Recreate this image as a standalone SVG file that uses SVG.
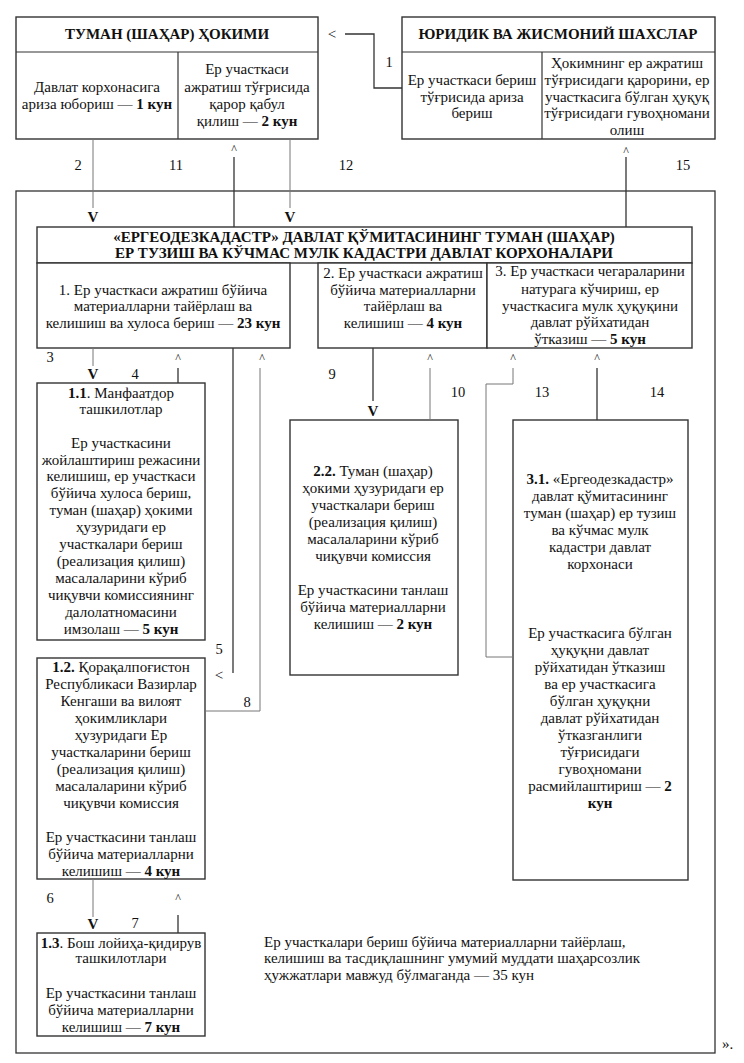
<svg xmlns="http://www.w3.org/2000/svg" width="744" height="1063" viewBox="0 0 744 1063">
<style>
.t{font-size:15px;fill:#111}
.c{text-anchor:middle}
.b{font-weight:bold}
.box{fill:#fff;stroke:#333;stroke-width:1.4}
.div{stroke:#333;stroke-width:1.2;fill:none}
.ln{stroke:#333;stroke-width:1.3;fill:none}
.lg{stroke:#777;stroke-width:1;fill:none}
.num{font-size:14.5px;fill:#111;text-anchor:middle}
.car{font-size:12px;fill:#111;text-anchor:middle}
.v{font-weight:bold;text-anchor:middle;font-size:15px;fill:#111}
</style>
<rect width="744" height="1063" fill="#fff"/>
<g id="frame"><rect x="16" y="191" width="699" height="862" fill="none" stroke="#333" stroke-width="1.3"/></g>

<g id="node-hokim">
<rect class="box" x="16" y="17" width="302" height="122"/>
<line class="div" x1="16" y1="52" x2="318" y2="52"/>
<line class="div" x1="178" y1="52" x2="178" y2="139"/>
<text style="font-family:'Liberation Serif',serif" class="t c b" x="167" y="39">ТУМАН (ШАҲАР) ҲОКИМИ</text>
<text style="font-family:'Liberation Serif',serif" class="t c" x="97" y="92">Давлат корхонасига</text>
<text style="font-family:'Liberation Serif',serif" class="t c" x="97" y="109">ариза юбориш — <tspan class="b">1 кун</tspan></text>
<text style="font-family:'Liberation Serif',serif" class="t c" x="247" y="74">Ер участкаси</text>
<text style="font-family:'Liberation Serif',serif" class="t c" x="247" y="92">ажратиш тўғрисида</text>
<text style="font-family:'Liberation Serif',serif" class="t c" x="247" y="109">қарор қабул</text>
<text style="font-family:'Liberation Serif',serif" class="t c" x="247" y="126">қилиш — <tspan class="b">2 кун</tspan></text>
</g>

<g id="node-shaxslar">
<rect class="box" x="402" y="17" width="313" height="122"/>
<line class="div" x1="402" y1="52" x2="715" y2="52"/>
<line class="div" x1="542" y1="52" x2="542" y2="139"/>
<text style="font-family:'Liberation Serif',serif" class="t c b" x="558" y="39">ЮРИДИК ВА ЖИСМОНИЙ ШАХСЛАР</text>
<text style="font-family:'Liberation Serif',serif" class="t c" x="472" y="85">Ер участкаси бериш</text>
<text style="font-family:'Liberation Serif',serif" class="t c" x="472" y="102">тўғрисида ариза</text>
<text style="font-family:'Liberation Serif',serif" class="t c" x="472" y="118">бериш</text>
<text style="font-family:'Liberation Serif',serif" class="t c" x="627" y="68">Ҳокимнинг ер ажратиш</text>
<text style="font-family:'Liberation Serif',serif" class="t c" x="627" y="85">тўғрисидаги қарорини, ер</text>
<text style="font-family:'Liberation Serif',serif" class="t c" x="627" y="102">участкасига бўлган ҳуқуқ</text>
<text style="font-family:'Liberation Serif',serif" class="t c" x="627" y="118">тўғрисидаги гувоҳномани</text>
<text style="font-family:'Liberation Serif',serif" class="t c" x="627" y="135">олиш</text>
</g>

<g id="node-ergeo">
<rect class="box" x="37" y="227" width="655" height="36"/>
<text style="font-family:'Liberation Serif',serif" class="t c b" x="364" y="242">«ЕРГЕОДЕЗКАДАСТР» ДАВЛАТ ҚЎМИТАСИНИНГ ТУМАН (ШАҲАР)</text>
<text style="font-family:'Liberation Serif',serif" class="t c b" x="364" y="258">ЕР ТУЗИШ ВА КЎЧМАС МУЛК КАДАСТРИ ДАВЛАТ КОРХОНАЛАРИ</text>
</g>

<g id="node-1">
<rect class="box" x="37" y="263" width="253" height="85"/>
<text style="font-family:'Liberation Serif',serif" class="t c" x="163" y="295">1. Ер участкаси ажратиш бўйича</text>
<text style="font-family:'Liberation Serif',serif" class="t c" x="163" y="311">материалларни тайёрлаш ва</text>
<text style="font-family:'Liberation Serif',serif" class="t c" x="163" y="328">келишиш ва хулоса бериш — <tspan class="b">23 кун</tspan></text>
</g>

<g id="node-2">
<rect class="box" x="318" y="263" width="169" height="85"/>
<text style="font-family:'Liberation Serif',serif" class="t c" x="403" y="278">2. Ер участкаси ажратиш</text>
<text style="font-family:'Liberation Serif',serif" class="t c" x="403" y="295">бўйича материалларни</text>
<text style="font-family:'Liberation Serif',serif" class="t c" x="403" y="311">тайёрлаш ва</text>
<text style="font-family:'Liberation Serif',serif" class="t c" x="403" y="328">келишиш — <tspan class="b">4 кун</tspan></text>
</g>

<g id="node-3">
<rect class="box" x="487" y="263" width="205" height="85"/>
<text style="font-family:'Liberation Serif',serif" class="t c" x="590" y="276">3. Ер участкаси чегараларини</text>
<text style="font-family:'Liberation Serif',serif" class="t c" x="590" y="294">натурага кўчириш, ер</text>
<text style="font-family:'Liberation Serif',serif" class="t c" x="590" y="311">участкасига мулк ҳуқуқини</text>
<text style="font-family:'Liberation Serif',serif" class="t c" x="590" y="327">давлат рўйхатидан</text>
<text style="font-family:'Liberation Serif',serif" class="t c" x="590" y="344">ўтказиш — <tspan class="b">5 кун</tspan></text>
</g>

<g id="node-1-1">
<rect class="box" x="37" y="383" width="168" height="257"/>
<text style="font-family:'Liberation Serif',serif" class="t c" x="121" y="398"><tspan class="b">1.1</tspan>. Манфаатдор</text>
<text style="font-family:'Liberation Serif',serif" class="t c" x="121" y="414">ташкилотлар</text>
<text style="font-family:'Liberation Serif',serif" class="t c" x="121" y="448">Ер участкасини</text>
<text style="font-family:'Liberation Serif',serif" class="t c" x="121" y="465">жойлаштириш режасини</text>
<text style="font-family:'Liberation Serif',serif" class="t c" x="121" y="481">келишиш, ер участкаси</text>
<text style="font-family:'Liberation Serif',serif" class="t c" x="121" y="498">бўйича хулоса бериш,</text>
<text style="font-family:'Liberation Serif',serif" class="t c" x="121" y="515">туман (шаҳар) ҳокими</text>
<text style="font-family:'Liberation Serif',serif" class="t c" x="121" y="532">ҳузуридаги ер</text>
<text style="font-family:'Liberation Serif',serif" class="t c" x="121" y="549">участкалари бериш</text>
<text style="font-family:'Liberation Serif',serif" class="t c" x="121" y="566">(реализация қилиш)</text>
<text style="font-family:'Liberation Serif',serif" class="t c" x="121" y="583">масалаларини кўриб</text>
<text style="font-family:'Liberation Serif',serif" class="t c" x="121" y="600">чиқувчи комиссиянинг</text>
<text style="font-family:'Liberation Serif',serif" class="t c" x="121" y="617">далолатномасини</text>
<text style="font-family:'Liberation Serif',serif" class="t c" x="121" y="634">имзолаш — <tspan class="b">5 кун</tspan></text>
</g>

<g id="node-1-2">
<rect class="box" x="37" y="658" width="168" height="221"/>
<text style="font-family:'Liberation Serif',serif" class="t c" x="121" y="672"><tspan class="b">1.2.</tspan> Қорақалпоғистон</text>
<text style="font-family:'Liberation Serif',serif" class="t c" x="121" y="689">Республикаси Вазирлар</text>
<text style="font-family:'Liberation Serif',serif" class="t c" x="121" y="706">Кенгаши ва вилоят</text>
<text style="font-family:'Liberation Serif',serif" class="t c" x="121" y="723">ҳокимликлари</text>
<text style="font-family:'Liberation Serif',serif" class="t c" x="121" y="740">ҳузуридаги Ер</text>
<text style="font-family:'Liberation Serif',serif" class="t c" x="121" y="757">участкаларини бериш</text>
<text style="font-family:'Liberation Serif',serif" class="t c" x="121" y="774">(реализация қилиш)</text>
<text style="font-family:'Liberation Serif',serif" class="t c" x="121" y="791">масалаларини кўриб</text>
<text style="font-family:'Liberation Serif',serif" class="t c" x="121" y="808">чиқувчи комиссия</text>
<text style="font-family:'Liberation Serif',serif" class="t c" x="121" y="842">Ер участкасини танлаш</text>
<text style="font-family:'Liberation Serif',serif" class="t c" x="121" y="859">бўйича материалларни</text>
<text style="font-family:'Liberation Serif',serif" class="t c" x="121" y="876">келишиш — <tspan class="b">4 кун</tspan></text>
</g>

<g id="node-1-3">
<rect class="box" x="37" y="933" width="168" height="103"/>
<text style="font-family:'Liberation Serif',serif" class="t c" x="121" y="948"><tspan class="b">1.3</tspan>. Бош лойиҳа-қидирув</text>
<text style="font-family:'Liberation Serif',serif" class="t c" x="121" y="963">ташкилотлари</text>
<text style="font-family:'Liberation Serif',serif" class="t c" x="121" y="998">Ер участкасини танлаш</text>
<text style="font-family:'Liberation Serif',serif" class="t c" x="121" y="1015">бўйича материалларни</text>
<text style="font-family:'Liberation Serif',serif" class="t c" x="121" y="1032">келишиш — <tspan class="b">7 кун</tspan></text>
</g>

<g id="node-2-2">
<rect class="box" x="290" y="420" width="168" height="255"/>
<text style="font-family:'Liberation Serif',serif" class="t c" x="373" y="476"><tspan class="b">2.2.</tspan> Туман (шаҳар)</text>
<text style="font-family:'Liberation Serif',serif" class="t c" x="373" y="493">ҳокими ҳузуридаги ер</text>
<text style="font-family:'Liberation Serif',serif" class="t c" x="373" y="510">участкалари бериш</text>
<text style="font-family:'Liberation Serif',serif" class="t c" x="373" y="527">(реализация қилиш)</text>
<text style="font-family:'Liberation Serif',serif" class="t c" x="373" y="544">масалаларини кўриб</text>
<text style="font-family:'Liberation Serif',serif" class="t c" x="373" y="561">чиқувчи комиссия</text>
<text style="font-family:'Liberation Serif',serif" class="t c" x="373" y="595">Ер участкасини танлаш</text>
<text style="font-family:'Liberation Serif',serif" class="t c" x="373" y="612">бўйича материалларни</text>
<text style="font-family:'Liberation Serif',serif" class="t c" x="373" y="629">келишиш — <tspan class="b">2 кун</tspan></text>
</g>

<g id="node-3-1">
<rect class="box" x="513" y="420" width="175" height="460"/>
<text style="font-family:'Liberation Serif',serif" class="t c" x="600" y="484"><tspan class="b">3.1.</tspan> «Ергеодезкадастр»</text>
<text style="font-family:'Liberation Serif',serif" class="t c" x="600" y="501">давлат қўмитасининг</text>
<text style="font-family:'Liberation Serif',serif" class="t c" x="600" y="518">туман (шаҳар) ер тузиш</text>
<text style="font-family:'Liberation Serif',serif" class="t c" x="600" y="535">ва кўчмас мулк</text>
<text style="font-family:'Liberation Serif',serif" class="t c" x="600" y="552">кадастри давлат</text>
<text style="font-family:'Liberation Serif',serif" class="t c" x="600" y="569">корхонаси</text>
<text style="font-family:'Liberation Serif',serif" class="t c" x="600" y="638">Ер участкасига бўлган</text>
<text style="font-family:'Liberation Serif',serif" class="t c" x="600" y="655">ҳуқуқни давлат</text>
<text style="font-family:'Liberation Serif',serif" class="t c" x="600" y="672">рўйхатидан ўтказиш</text>
<text style="font-family:'Liberation Serif',serif" class="t c" x="600" y="689">ва ер участкасига</text>
<text style="font-family:'Liberation Serif',serif" class="t c" x="600" y="706">бўлган ҳуқуқни</text>
<text style="font-family:'Liberation Serif',serif" class="t c" x="600" y="723">давлат рўйхатидан</text>
<text style="font-family:'Liberation Serif',serif" class="t c" x="600" y="740">ўтказганлиги</text>
<text style="font-family:'Liberation Serif',serif" class="t c" x="600" y="757">тўғрисидаги</text>
<text style="font-family:'Liberation Serif',serif" class="t c" x="600" y="774">гувоҳномани</text>
<text style="font-family:'Liberation Serif',serif" class="t c" x="600" y="791">расмийлаштириш — <tspan class="b">2</tspan></text>
<text style="font-family:'Liberation Serif',serif" class="t c b" x="600" y="808">кун</text>
</g>

<g id="note">
<text style="font-family:'Liberation Serif',serif" class="t" x="264" y="947">Ер участкалари бериш бўйича материалларни тайёрлаш,</text>
<text style="font-family:'Liberation Serif',serif" class="t" x="264" y="963">келишиш ва тасдиқлашнинг умумий муддати шаҳарсозлик</text>
<text style="font-family:'Liberation Serif',serif" class="t" x="264" y="980">ҳужжатлари мавжуд бўлмаганда — 35 кун</text>
<text style="font-family:'Liberation Serif',serif" class="t" x="722" y="1049">».</text>
</g>

<g id="connectors">
<polyline class="ln" points="345,34 374,34 374,88 402,88"/>
<line class="lg" x1="93" y1="139" x2="93" y2="208"/>
<line class="ln" x1="234" y1="157" x2="234" y2="227"/>
<line class="lg" x1="290" y1="139" x2="290" y2="208"/>
<line class="ln" x1="626" y1="157" x2="626" y2="227"/>
<line class="lg" x1="93" y1="348" x2="93" y2="366"/>
<line class="ln" x1="178" y1="368" x2="178" y2="383"/>
<line class="ln" x1="233" y1="348" x2="233" y2="673"/>
<polyline class="lg" points="206,711 260,711 260,368"/>
<line class="ln" x1="373" y1="348" x2="373" y2="401"/>
<line class="lg" x1="430" y1="368" x2="430" y2="420"/>
<polyline class="lg" points="513,657 486,657 486,384 513,384 513,368"/>
<line class="ln" x1="597" y1="368" x2="597" y2="420"/>
<line class="lg" x1="93" y1="879" x2="93" y2="917"/>
<line class="ln" x1="178" y1="915" x2="178" y2="933"/>
<text style="font-family:'Liberation Serif',serif" x="332" y="39" class="t c">&lt;</text>
<text style="font-family:'Liberation Serif',serif" x="219" y="680" class="t c">&lt;</text>
<text style="font-family:'Liberation Serif',serif" class="car" x="234" y="153">^</text>
<text style="font-family:'Liberation Serif',serif" class="car" x="626" y="155">^</text>
<text style="font-family:'Liberation Serif',serif" class="car" x="178" y="362">^</text>
<text style="font-family:'Liberation Serif',serif" class="car" x="262" y="362">^</text>
<text style="font-family:'Liberation Serif',serif" class="car" x="430" y="362">^</text>
<text style="font-family:'Liberation Serif',serif" class="car" x="513" y="362">^</text>
<text style="font-family:'Liberation Serif',serif" class="car" x="597" y="362">^</text>
<text style="font-family:'Liberation Serif',serif" class="car" x="178" y="902">^</text>
<text style="font-family:'Liberation Serif',serif" class="v" x="93" y="222">V</text>
<text style="font-family:'Liberation Serif',serif" class="v" x="290" y="222">V</text>
<text style="font-family:'Liberation Serif',serif" class="v" x="93" y="379">V</text>
<text style="font-family:'Liberation Serif',serif" class="v" x="373" y="416">V</text>
<text style="font-family:'Liberation Serif',serif" class="v" x="93" y="929">V</text>
<text style="font-family:'Liberation Serif',serif" class="num" x="389" y="67">1</text>
<text style="font-family:'Liberation Serif',serif" class="num" x="78" y="170">2</text>
<text style="font-family:'Liberation Serif',serif" class="num" x="50" y="362">3</text>
<text style="font-family:'Liberation Serif',serif" class="num" x="135" y="379">4</text>
<text style="font-family:'Liberation Serif',serif" class="num" x="219" y="654">5</text>
<text style="font-family:'Liberation Serif',serif" class="num" x="50" y="903">6</text>
<text style="font-family:'Liberation Serif',serif" class="num" x="135" y="928">7</text>
<text style="font-family:'Liberation Serif',serif" class="num" x="247" y="707">8</text>
<text style="font-family:'Liberation Serif',serif" class="num" x="332" y="379">9</text>
<text style="font-family:'Liberation Serif',serif" class="num" x="458" y="397">10</text>
<text style="font-family:'Liberation Serif',serif" class="num" x="176" y="170">11</text>
<text style="font-family:'Liberation Serif',serif" class="num" x="346" y="170">12</text>
<text style="font-family:'Liberation Serif',serif" class="num" x="542" y="397">13</text>
<text style="font-family:'Liberation Serif',serif" class="num" x="657" y="397">14</text>
<text style="font-family:'Liberation Serif',serif" class="num" x="683" y="170">15</text>
</g>
</svg>
